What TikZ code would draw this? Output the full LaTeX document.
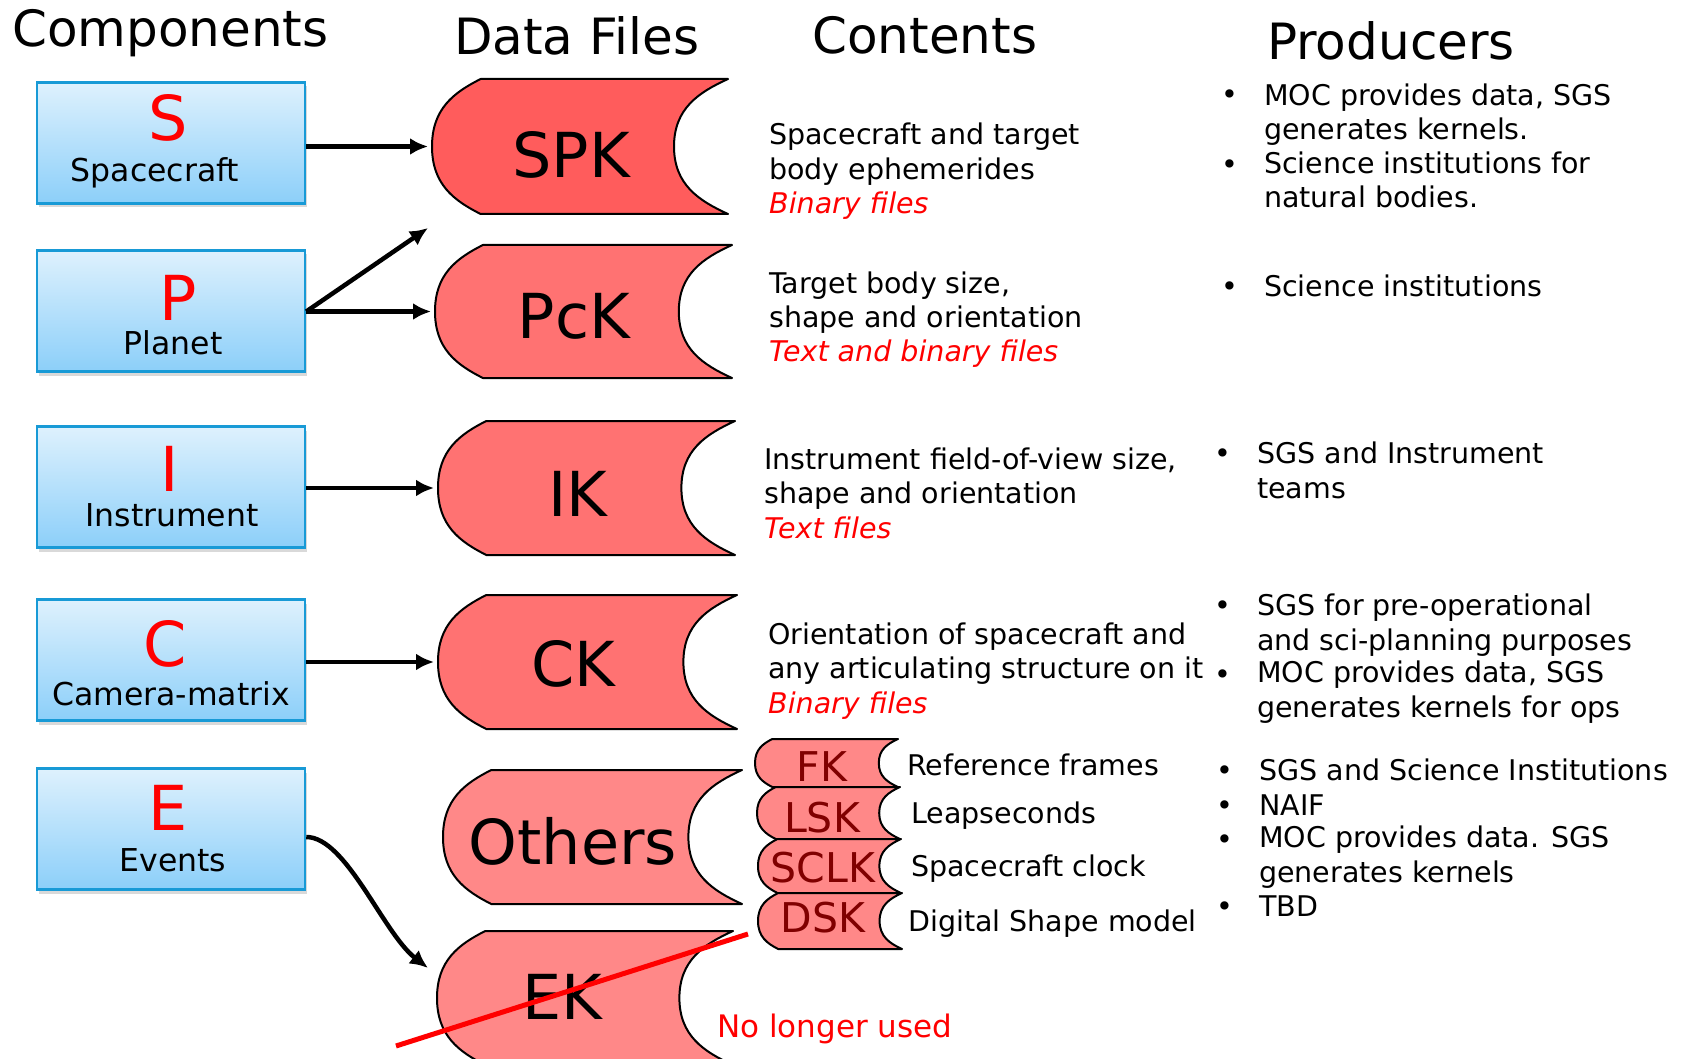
\documentclass[tikz,border=0pt]{standalone}
\usepackage{fontspec}
\setmainfont{DejaVu Sans}
\usetikzlibrary{arrows.meta, shadows}

\definecolor{spkred}{RGB}{255,92,92}
\definecolor{pckred}{RGB}{255,114,114}
\definecolor{othred}{RGB}{255,136,136}
\definecolor{kdark}{RGB}{128,0,0}
\definecolor{boxline}{RGB}{24,154,214}
\definecolor{boxtop}{RGB}{222,241,253}
\definecolor{boxbot}{RGB}{140,207,249}

\tikzset{
  head/.style={font=\fontsize{50}{60}\selectfont, anchor=base west, inner sep=0},
  comp/.style={draw=boxline, line width=2.5pt, top color=boxtop, bottom color=boxbot,
    minimum width=268pt, minimum height=121pt,
    drop shadow={shadow xshift=2pt, shadow yshift=-4pt, opacity=0.3}},
  letter/.style={font=\fontsize{62}{70}\selectfont, text=red, anchor=base, inner sep=0},
  cname/.style={font=\fontsize{31.5}{36}\selectfont, anchor=base, inner sep=0},
  kline/.style={draw=black, line width=2pt, line join=round},
  kname/.style={font=\fontsize{62}{70}\selectfont, anchor=base, inner sep=0},
  ksmall/.style={font=\fontsize{41}{48}\selectfont, text=kdark, anchor=base, inner sep=0},
  body/.style={font=\fontsize{28.5}{34.5}\selectfont, align=left, anchor=base west, inner sep=0},
  bul/.style={font=\fontsize{28.5}{34.5}\selectfont, anchor=base, inner sep=0},
  conn/.style={line width=4.5pt, -{Latex[length=18pt,width=17pt]}},
  strike/.style={red, line width=5pt},
  gone/.style={font=\fontsize{31}{36}\selectfont, text=red, anchor=base west, inner sep=0}
}

% kernel file shape: left, top, width, height, fill, name
\newcommand{\kfile}[6]{%
  \pgfmathsetmacro{\ka}{0.36*#4}
  \pgfmathsetmacro{\kb}{0.40*#4}
  \pgfmathsetmacro{\kr}{#1+#3}
  \pgfmathsetmacro{\kbot}{#2+#4}
  \pgfmathsetmacro{\kmid}{#2+0.5*#4}
  \draw[kline, fill=#5] (#1+\ka,#2) -- (\kr,#2)
    .. controls (\kr-0.55*\kb,#2+0.1*#4) and (\kr-\kb,\kmid-0.28*#4) .. (\kr-\kb,\kmid)
    .. controls (\kr-\kb,\kmid+0.28*#4) and (\kr-0.55*\kb,\kbot-0.1*#4) .. (\kr,\kbot)
    -- (#1+\ka,\kbot)
    .. controls (#1+0.45*\ka,\kbot-0.1*#4) and (#1,\kmid+0.28*#4) .. (#1,\kmid)
    .. controls (#1,\kmid-0.28*#4) and (#1+0.45*\ka,#2+0.1*#4) .. cycle;
  \coordinate (#6) at (#1-4,\kmid);
}
\newcommand{\ftype}[1]{{\color{red}\itshape #1}}
% bullet: name, x, first baseline, last baseline, text
\newcommand{\pitem}[5]{%
  \node[bul] (#1-b) at (#2,#3) {\textbullet};
  \node[body] (#1) at (#2+34,#4) {#5};
}

\begin{document}
\begin{tikzpicture}[x=1pt, y=-1pt]
\useasboundingbox (0,0) rectangle (1687,1059);

% column heads
\node[head] (h1) at (12,47) {Components};
\node[head] (h2) at (454,55) {Data Files};
\node[head] (h3) at (812,54) {Contents};
\node[head] (h4) at (1267,60) {Producers};

% components
\foreach \t/\l/\lx/\ly/\cn/\nx/\ny/\b in {82/S/168/141/Spacecraft/155/182/sbox,
    250/P/178/320/Planet/173/355/pbox,
    426/I/170/491/Instrument/172/526/ibox,
    599/C/165/666/Camera-matrix/171/705/cbox,
    768/E/168/830/Events/173/871/ebox}{
  \node[comp] (\b) at (171,\t+61) {};
  \node[letter] (\b-l) at (\lx,\ly) {\l};
  \node[cname] (\b-n) at (\nx,\ny) {\cn};
}

% data files
\kfile{432}{79}{296}{135}{spkred}{spk}
\kfile{435}{245}{297}{133}{pckred}{pck}
\kfile{438}{421}{297}{134}{pckred}{ik}
\kfile{438}{595}{299}{134}{pckred}{ck}
\kfile{443}{770}{299}{134}{othred}{oth}
\kfile{437}{931}{296}{134}{othred}{ek}
\kfile{755}{739}{143}{48}{othred}{fk}
\kfile{757}{787}{143}{52}{othred}{lsk}
\kfile{758}{839}{143}{54}{othred}{sclk}
\kfile{758}{893}{144}{56}{othred}{dsk}

\foreach \x/\y/\k/\nm in {571/178/SPK/spk, 574/338/PcK/pck, 578/516/IK/ik,
    573/686/CK/ck, 573/864/Others/oth, 562/1019/EK/ek}
  \node[kname] (\nm-t) at (\x,\y) {\k};
\foreach \x/\y/\k/\nm in {822/781/FK/fk, 822/832/LSK/lsk, 823/882/SCLK/sclk, 823/932/DSK/dsk}
  \node[ksmall] (\nm-t) at (\x,\y) {\k};

% arrows
\draw[conn] (sbox.east |- spk) -- (spk);
\draw[conn] (pbox.east |- pck) -- (pck);
\coordinate (pup) at (428,228);
\draw[conn] (pbox.east |- pck) -- (pup);
\draw[conn] (ibox.east |- ik) -- (ik);
\draw[conn] (cbox.east |- ck) -- (ck);
\coordinate (ekin) at (428,968);
\draw[conn] ([yshift=-8pt]ebox.east) .. controls +(40,0) and +(-45,-35) .. (ekin);

% contents (anchored at last line)
\node[body] (spk-c) at (769,214) {Spacecraft and target\\body ephemerides\\\ftype{Binary files}};
\node[body] (pck-c) at (769,362) {Target body size,\\shape and orientation\\\ftype{Text and binary files}};
\node[body] (ik-c) at (764,538) {Instrument field-of-view size,\\shape and orientation\\\ftype{Text files}};
\node[body] (ck-c) at (768,713) {Orientation of spacecraft and\\any articulating structure on it\\\ftype{Binary files}};
\node[body] (fk-c) at (907,775) {Reference frames};
\node[body] (lsk-c) at (911,823) {Leapseconds};
\node[body] (sclk-c) at (911,876) {Spacecraft clock};
\node[body] (dsk-c) at (908,931) {Digital Shape model};

% producers
\pitem{pr1}{1230}{105}{140}{MOC provides data, SGS\\generates kernels.}
\pitem{pr2}{1230}{175}{208}{Science institutions for\\natural bodies.}
\pitem{pr3}{1230}{297}{297}{Science institutions}
\pitem{pr4}{1223}{463}{498}{SGS and Instrument\\teams}
\pitem{pr5}{1223}{615}{650}{SGS for pre-operational\\and sci-planning purposes}
\pitem{pr6}{1223}{684}{717}{MOC provides data, SGS\\generates kernels for ops}
\pitem{pr7}{1225}{780}{780}{SGS and Science Institutions}
\pitem{pr8}{1225}{815}{815}{NAIF}
\pitem{pr9}{1225}{849}{882}{MOC provides data. SGS\\generates kernels}
\pitem{pr10}{1225}{916}{916}{TBD}

% EK retired
\coordinate (st1) at (396,1046);
\coordinate (st2) at (748,934);
\draw[strike] (st1) -- (st2);
\node[gone] (nlu) at (717,1037) {No longer used};
\end{tikzpicture}
\end{document}
